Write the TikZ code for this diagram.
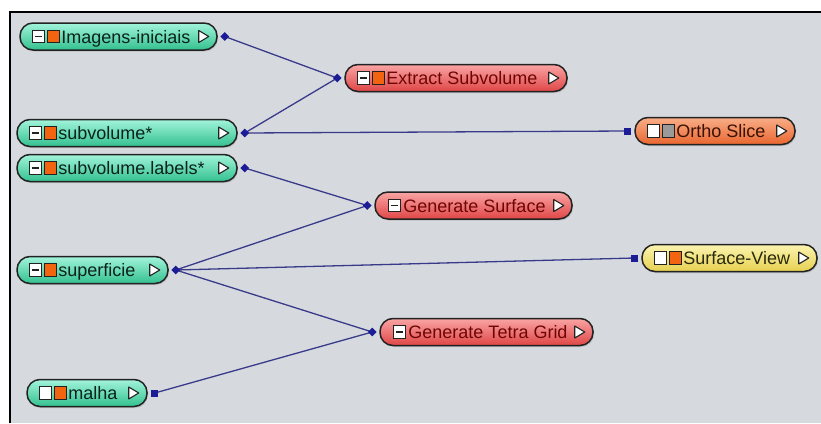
\documentclass[tikz,border=0pt]{standalone}
\usepackage{fontspec}
\setmainfont{Liberation Sans}
\usetikzlibrary{shapes.geometric,shadows}

\definecolor{canvas}{HTML}{D6DADE}
\definecolor{edge}{HTML}{222222}
\definecolor{linkcol}{HTML}{3A3A8A}
\definecolor{portcol}{HTML}{1C1C96}
\definecolor{tealTop}{HTML}{A2F4DA}
\definecolor{tealBot}{HTML}{33C08F}
\definecolor{redTop}{HTML}{F9A4A4}
\definecolor{redBot}{HTML}{E04646}
\definecolor{orgTop}{HTML}{F9AE88}
\definecolor{orgBot}{HTML}{E86630}
\definecolor{yelTop}{HTML}{FBF4B0}
\definecolor{yelBot}{HTML}{E6D050}
\definecolor{swOrange}{HTML}{F26410}
\definecolor{swGray}{HTML}{9A9A9A}
\definecolor{txtTeal}{HTML}{0A221C}
\definecolor{txtRed}{HTML}{6E0606}
\definecolor{txtOrg}{HTML}{3A1204}
\definecolor{txtYel}{HTML}{2A2A0C}

\tikzset{
  module/.style={draw=edge, line width=1.5pt, rounded corners=13pt,
    minimum height=27pt, inner sep=0pt, shading=axis,
    drop shadow={shadow xshift=1pt, shadow yshift=-1.5pt, opacity=0.3}},
  tealmod/.style={module, top color=tealTop, bottom color=tealBot},
  redmod/.style={module, top color=redTop, bottom color=redBot},
  orgmod/.style={module, top color=orgTop, bottom color=orgBot},
  yelmod/.style={module, top color=yelTop, bottom color=yelBot},
  swatch/.style={draw=edge, line width=0.9pt, minimum size=12.5pt, inner sep=0pt},
  minusbox/.style={swatch, fill=white,
    path picture={\draw[edge, line width=1.4pt]
      ([xshift=2.5pt]path picture bounding box.west) --
      ([xshift=-2.5pt]path picture bounding box.east);}},
  whitebox/.style={swatch, fill=white},
  labeltext/.style={anchor=base west, inner sep=0pt,
    font=\fontsize{18}{21}\selectfont},
  outtri/.style={draw=edge, line width=1.1pt, fill=white, line join=round},
  link/.style={draw=linkcol, line width=1.3pt},
  portd/.style={diamond, fill=portcol, inner sep=0pt, minimum size=9pt},
  ports/.style={rectangle, fill=portcol, inner sep=0pt, minimum size=7pt},
}

% #1 name, #2 body style, #3 text colour, #4 left x, #5 right x,
% #6 centre y, #7 icon set, #8 label
\newcommand\mkmodule[8]{%
  \node[#2, minimum width={#5-#4}] (#1) at ({(#4+#5)/2},#6) {};
  \ifcase#7
    \node[minusbox] (#1-c) at ([xshift=20pt]#1.west) {};
    \node[labeltext, text=#3] (#1-t) at ([xshift=29pt,yshift=-6.5pt]#1.west) {#8};
  \or
    \node[minusbox] (#1-c) at ([xshift=19pt]#1.west) {};
    \node[swatch, fill=swOrange] (#1-s) at ([xshift=34pt]#1.west) {};
    \node[labeltext, text=#3] (#1-t) at ([xshift=42pt,yshift=-6.5pt]#1.west) {#8};
  \or
    \node[whitebox] (#1-c) at ([xshift=19pt]#1.west) {};
    \node[swatch, fill=swOrange] (#1-s) at ([xshift=34pt]#1.west) {};
    \node[labeltext, text=#3] (#1-t) at ([xshift=42pt,yshift=-6.5pt]#1.west) {#8};
  \or
    \node[whitebox] (#1-c) at ([xshift=19pt]#1.west) {};
    \node[swatch, fill=swGray] (#1-s) at ([xshift=34pt]#1.west) {};
    \node[labeltext, text=#3] (#1-t) at ([xshift=42pt,yshift=-6.5pt]#1.west) {#8};
  \fi
  \draw[outtri] ([xshift=-19pt,yshift=6pt]#1.east) -- ++(10,6) -- ++(-10,6) -- cycle;
  \coordinate (#1-in) at ([xshift=-7pt]#1.west);
  \coordinate (#1-out) at ([xshift=7pt]#1.east);
}

\begin{document}
\begin{tikzpicture}[x=1pt,y=-1pt]
\useasboundingbox (0,0) rectangle (821,423);
\fill[white] (0,0) rectangle (821,423);
\fill[canvas] (10,12) rectangle (821,423);
\draw[black, line width=2pt] (10,423) -- (10,12) -- (821,12);

% modules
\mkmodule{img}{tealmod}{txtTeal}{20}{217}{36.5}{1}{Imagens-iniciais}
\mkmodule{ext}{redmod}{txtRed}{345}{567}{78}{1}{Extract Subvolume}
\mkmodule{sub}{tealmod}{txtTeal}{17}{237}{133}{1}{subvolume*}
\mkmodule{lab}{tealmod}{txtTeal}{17}{237}{168}{1}{subvolume.labels*}
\mkmodule{ortho}{orgmod}{txtOrg}{635}{795}{131}{3}{Ortho Slice}
\mkmodule{gsurf}{redmod}{txtRed}{375}{572}{205.5}{0}{Generate Surface}
\mkmodule{sup}{tealmod}{txtTeal}{17}{168}{270}{1}{superficie}
\mkmodule{sview}{yelmod}{txtYel}{642}{817}{258}{2}{Surface-View}
\mkmodule{tetra}{redmod}{txtRed}{380}{593}{332}{0}{Generate Tetra Grid}
\mkmodule{malha}{tealmod}{txtTeal}{27}{147}{393}{2}{malha}

% connections
\draw[link] (img-out) -- (ext-in);
\draw[link] (sub-out) -- (ext-in);
\draw[link] (sub-out) -- (ortho-in);
\draw[link] (lab-out) -- (gsurf-in);
\draw[link] (sup-out) -- (gsurf-in);
\draw[link] (sup-out) -- (sview-in);
\draw[link] (sup-out) -- (tetra-in);
\draw[link] (malha-out) -- (tetra-in);

% ports
\node[portd] (img-po) at (img-out) {};
\node[portd] (sub-po) at (sub-out) {};
\node[portd] (lab-po) at (lab-out) {};
\node[portd] (sup-po) at (sup-out) {};
\node[ports] (malha-po) at (malha-out) {};
\node[portd] (ext-pi) at (ext-in) {};
\node[portd] (gsurf-pi) at (gsurf-in) {};
\node[portd] (tetra-pi) at (tetra-in) {};
\node[ports] (ortho-pi) at (ortho-in) {};
\node[ports] (sview-pi) at (sview-in) {};
\end{tikzpicture}
\end{document}
